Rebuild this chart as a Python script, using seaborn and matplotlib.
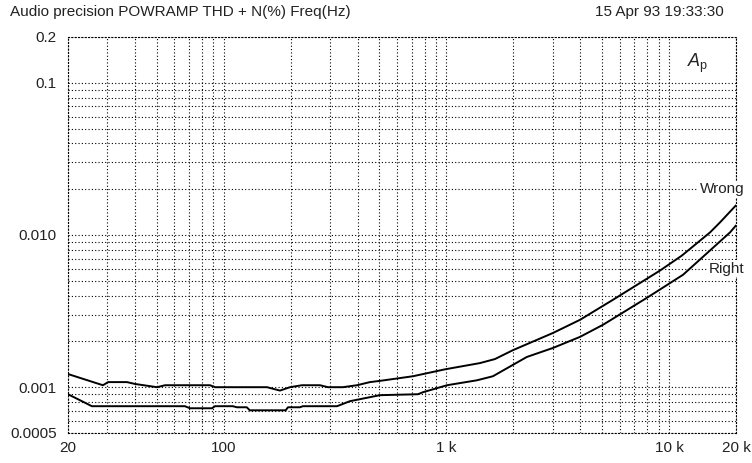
import matplotlib
matplotlib.use('Agg')
from matplotlib import pyplot as plt
from matplotlib.ticker import LogLocator, FixedLocator, NullFormatter
import pandas as pd
import seaborn as sns

# THD+N (%) vs frequency (Hz)
wrong_freq = [20, 28.7, 30.3, 36.8, 40, 50.2, 54.6, 86.9, 91.5, 156.6, 179, 198.6, 224.8, 270.8, 294,
              343, 397, 454, 503, 708, 986, 1416, 1653, 1990, 3011, 3983, 5600, 9100, 11420, 15290,
              16950, 20000]
wrong_thd = [0.00122, 0.00103, 0.00108, 0.00108, 0.00105, 0.00100, 0.00103, 0.00103, 0.00100, 0.00100,
             0.00095, 0.00100, 0.00103, 0.00103, 0.00100, 0.00100, 0.00103, 0.00108, 0.00110, 0.00118,
             0.00131, 0.00144, 0.00153, 0.00175, 0.00227, 0.00277, 0.00375, 0.00583, 0.00732, 0.0104,
             0.0121, 0.01567]

right_freq = [20, 25.6, 67, 70.6, 88.7, 91.5, 110, 114.7, 127, 131, 190, 194.5, 220, 227, 323, 369,
              503, 746, 786, 1007, 1373, 1619, 2300, 3011, 3983, 5054, 7969, 11570, 18800, 20000]
right_thd = [0.000899, 0.00075, 0.00075, 0.000727, 0.000727, 0.00075, 0.00075, 0.000738, 0.000738,
             0.000705, 0.000705, 0.000738, 0.000738, 0.00075, 0.00075, 0.000809, 0.000886, 0.000899,
             0.000927, 0.00103, 0.00111, 0.00118, 0.00158, 0.00181, 0.00214, 0.00257, 0.00387, 0.00548,
             0.0104, 0.01156]

ytick_vals = [0.0005, 0.001, 0.01, 0.1, 0.2]
ytick_labels = ['0.0005', '0.001', '0.010', '0.1', '0.2']
xtick_vals = [20, 100, 1000, 10000, 20000]
xtick_labels = ['20', '100', '1 k', '10 k', '20 k']

df = pd.concat([
    pd.DataFrame({'freq': wrong_freq, 'thd': wrong_thd, 'ch': 'Wrong'}),
    pd.DataFrame({'freq': right_freq, 'thd': right_thd, 'ch': 'Right'}),
])

sns.set_style('white')
plt.rcParams['font.family'] = ['Liberation Sans', 'DejaVu Sans']
plt.rcParams['mathtext.fontset'] = 'custom'
plt.rcParams['mathtext.it'] = 'Liberation Sans:italic'
plt.rcParams['mathtext.rm'] = 'Liberation Sans'

fig = plt.figure(figsize=(7.52, 4.63), dpi=100)
ax = fig.add_axes([68/752, 1-433/463, (736-68)/752, (433-37)/463])

sns.lineplot(data=df, x='freq', y='thd', hue='ch', palette={'Wrong': 'black', 'Right': 'black'},
             estimator=None, sort=False, linewidth=1.4, legend=False, ax=ax)

ax.set_xscale('log')
ax.set_yscale('log')
ax.set_xlim(20, 20000)
ax.set_ylim(0.0005, 0.2)

ax.xaxis.set_major_locator(FixedLocator(xtick_vals))
ax.set_xticks(xtick_vals, xtick_labels)
ax.set_yticks(ytick_vals, ytick_labels)
ax.xaxis.set_minor_locator(LogLocator(base=10, subs=range(2, 10), numticks=20))
ax.yaxis.set_minor_locator(LogLocator(base=10, subs=range(2, 10), numticks=20))
ax.xaxis.set_minor_formatter(NullFormatter())
ax.yaxis.set_minor_formatter(NullFormatter())
ax.tick_params(which='both', length=0, labelsize=11, colors='#222222')
ax.tick_params(axis='x', pad=6)
ax.tick_params(axis='y', pad=8)
ax.grid(True, which='both', color='black', linestyle=(0, (1, 2)), linewidth=0.8)
for s in ax.spines.values():
    s.set_linestyle((0, (1, 2)))
    s.set_linewidth(0.8)
    s.set_color('black')
ax.set_xlabel('')
ax.set_ylabel('')

fig.text(10/752, 1-12/463, 'Audio precision POWRAMP THD + N(%) Freq(Hz)', fontsize=11,
         va='center', ha='left', color='#222222')
fig.text(724/752, 1-12/463, '15 Apr 93 19:33:30', fontsize=11, va='center', ha='right',
         color='#222222')
ax.text(13500, 0.135, r'$A_{\mathrm{p}}$', fontsize=13, ha='center', va='center')
ax.text(21800, 0.0200, 'Wrong', fontsize=11, ha='right', va='center', color='#222222',
        bbox=dict(facecolor='white', edgecolor='none', pad=1), clip_on=False)
ax.text(21800, 0.0060, 'Right', fontsize=11, ha='right', va='center', color='#222222',
        bbox=dict(facecolor='white', edgecolor='none', pad=1), clip_on=False)

fig.savefig('out.png', dpi=100)
